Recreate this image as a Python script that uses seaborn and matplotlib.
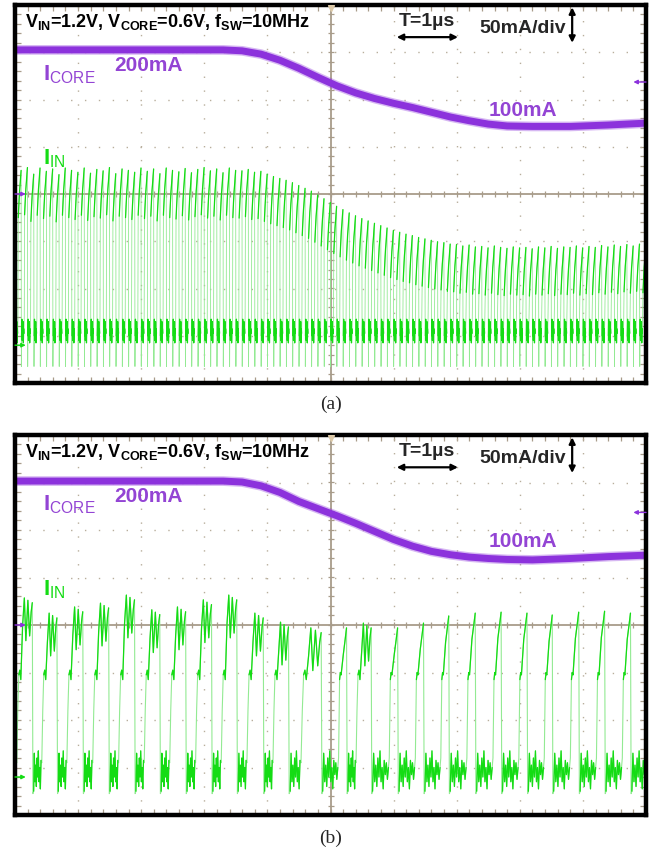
"""
Scope capture: I_CORE load step and I_IN switching current, two panels.
"""

import numpy as np
import matplotlib
matplotlib.use("Agg")
import matplotlib.pyplot as plt
import seaborn as sns

# scope settings (10 div wide, 8 div tall)
F_SW_MHZ = 10.0
T_DIV_US = 1.0
N_PULSES_A = 100

# I_CORE trace waypoints, in divisions
icore_x = [0.0, 3.3, 3.6, 3.9, 4.2, 4.5, 4.8, 5.1, 5.4, 5.7, 6.0, 6.3, 6.6, 6.9, 7.2, 7.5, 7.8, 8.2, 8.8, 9.4, 10.0]
icore_a = [3.05, 3.05, 3.03, 2.96, 2.83, 2.66, 2.47, 2.29, 2.14, 2.02, 1.92, 1.83, 1.73, 1.63, 1.55, 1.48,
           1.44, 1.43, 1.43, 1.46, 1.50]
icore_b = [3.03, 3.03, 3.01, 2.93, 2.79, 2.60, 2.45, 2.30, 2.14, 1.97, 1.80, 1.66, 1.55, 1.48, 1.43, 1.40,
           1.38, 1.37, 1.40, 1.44, 1.47]

# panel (a): peak of every I_IN pulse (div)
iin_a_peak = [
    0.50, 0.56, 0.42, 0.55, 0.48, 0.53, 0.41, 0.55, 0.50, 0.46,
    0.55, 0.44, 0.52, 0.49, 0.56, 0.43, 0.53, 0.50, 0.46, 0.55,
    0.48, 0.53, 0.43, 0.55, 0.50, 0.47, 0.54, 0.45, 0.52, 0.56,
    0.49, 0.53, 0.45, 0.55, 0.50, 0.49, 0.52, 0.46, 0.48, 0.42,
    0.37, 0.33, 0.29, 0.24, 0.18, 0.12, 0.06, -0.02, -0.10, -0.18,
    -0.26, -0.33, -0.40, -0.46, -0.52, -0.57, -0.62, -0.67, -0.72, -0.77,
    -0.81, -0.85, -0.88, -0.92, -0.95, -0.98, -1.01, -1.03, -1.06, -1.07,
    -1.10, -1.08, -1.12, -1.11, -1.14, -1.10, -1.13, -1.15, -1.12, -1.14,
    -1.13, -1.16, -1.12, -1.14, -1.11, -1.15, -1.12, -1.13, -1.10, -1.14,
    -1.11, -1.13, -1.09, -1.12, -1.08, -1.11, -1.07, -1.10, -1.06, -1.09,
]

# panel (b): falling-edge times (div), first and last lie off screen
iin_b_drop = [-0.12, 0.28, 0.67, 1.08, 1.49, 1.90, 2.30, 2.71, 3.12, 3.52, 3.94, 4.34, 4.86,
              5.26, 5.65, 6.07, 6.48, 6.88, 7.30, 7.71, 8.12, 8.52, 8.94, 9.35, 9.76, 10.17]
iin_b_peak = [0.57, 0.25, 0.38, 0.46, 0.63, 0.32, 0.38, 0.53, 0.63, 0.25, 0.06, -0.06,
              -0.06, 0.04, -0.06, 0.04, 0.19, 0.25, 0.27, 0.25, 0.21, 0.27, 0.29, 0.25, 0.25]
iin_b_shape = ["M"] * 12 + ["ramp", "M"] + ["ramp"] * 11

# bottom ripple seen during the off phase (div)
ripple_a = [-3.0, -2.65, -3.1, -2.75, -3.05, -2.7, -3.15, -2.85, -2.95]
ripple_b = [-3.5, -2.7, -3.3, -2.95, -3.4, -2.8, -3.2, -2.65,
            -3.3, -3.0, -3.45, -2.85, -3.15, -2.9, -3.25, -3.0]

# pulse shapes: undershoot, off-phase length, then (phase, level, relative-to-peak)
SHAPES = {
    "a": dict(under=-3.65, low_end=0.42, ripple=ripple_a, bright_from=1, rise=[
        (0.47, -2.6, False), (0.52, -1.0, True), (0.62, -0.7, True), (0.72, -0.45, True),
        (0.82, -0.28, True), (0.90, -0.12, True), (0.97, 0.0, True)]),
    "M": dict(under=-3.55, low_end=0.34, ripple=ripple_b[:12], bright_from=2, rise=[
        (0.37, -2.9, False), (0.41, -1.8, False), (0.45, -1.05, False), (0.49, -0.95, False),
        (0.53, -1.15, False), (0.60, -0.6, True), (0.67, 0.0, True), (0.73, -0.9, True),
        (0.81, -0.05, True), (0.88, -0.8, True), (0.94, -0.3, True), (0.985, -0.1, True)]),
    "ramp": dict(under=-3.55, low_end=0.64, ripple=ripple_b, bright_from=1, rise=[
        (0.67, -2.8, False), (0.71, -1.15, False), (0.74, -1.0, False), (0.77, -1.05, False),
        (0.86, -0.55, True), (0.93, -0.25, True), (0.985, 0.0, True)]),
}

PURPLE = "#8c32dc"
PURPLE_TXT = "#9344d4"
GREEN = "#14dc14"
GREEN_LIGHT = "#93ea93"
GRID = "#b8ae9c"
AXIS = "#a89c8a"


def build_trace(drops, peaks, shapes):
    xs, ys = [], []
    bx, by, bu = [], [], []
    seg = 0
    for i, (pk, sh) in enumerate(zip(peaks, shapes)):
        t0, per = drops[i], drops[i + 1] - drops[i]
        tpl = SHAPES[sh]
        rip = list(tpl["ripple"])
        low_ph = np.linspace(0.04, tpl["low_end"], len(rip))
        top_val = [v + pk if r else v for p, v, r in tpl["rise"]]
        lx = [t0 + p * per for p in low_ph]
        tx = [t0 + p * per for p, v, r in tpl["rise"]]
        xs += [t0 + 0.01 * per] + lx + tx
        ys += [tpl["under"]] + rip + top_val
        bx += lx
        by += rip
        bu += [seg] * len(lx)
        k = tpl["bright_from"]
        bx += tx[k:]
        by += top_val[k:]
        bu += [seg + 1] * len(tx[k:])
        seg += 2
    return xs, ys, bx, by, bu


def style_scope(ax):
    ax.set_xlim(0, 10)
    ax.set_ylim(-4, 4)
    for v in range(1, 10):
        if v != 5:
            ax.axvline(v, color=GRID, lw=1.0, ls=(0, (1, 9)), zorder=1)
    for h in range(-3, 4):
        if h != 0:
            ax.axhline(h, color=GRID, lw=1.0, ls=(0, (1, 9)), zorder=1)
    ax.axvline(5, color=AXIS, lw=1.3, zorder=1)
    ax.axhline(0, color=AXIS, lw=1.3, zorder=1)
    tx = np.arange(0, 10.01, 0.2)
    ty = np.arange(-4, 4.01, 0.2)
    ax.plot(tx, np.zeros_like(tx), ls="none", marker="|", ms=5, mew=0.9, color=AXIS, zorder=1)
    ax.plot(np.full_like(ty, 5.0), ty, ls="none", marker="_", ms=5, mew=0.9, color=AXIS, zorder=1)
    ax.set_xticks(range(0, 11))
    ax.set_yticks(range(-4, 5))
    ax.set_xticks(tx, minor=True)
    ax.set_yticks(ty, minor=True)
    ax.tick_params(which="both", direction="in", length=4.5, width=0.9, color=AXIS,
                   top=True, right=True, bottom=True, left=True,
                   labelbottom=False, labelleft=False)
    ax.grid(False)
    for s in ax.spines.values():
        s.set_linewidth(3.2)
        s.set_color("black")
        s.set_zorder(5)


def annotate_panel(ax):
    ax.text(0.16, 3.64, r"V$_{\mathbf{IN}}$=1.2V, V$_{\mathbf{CORE}}$=0.6V, f$_{\mathbf{SW}}$=10MHz",
            fontsize=13, fontweight="bold", color="black", va="center", ha="left", zorder=6)
    ax.text(6.53, 3.66, "T=1µs", fontsize=14, fontweight="bold", ha="center", va="center", zorder=6)
    ax.annotate("", xy=(7.02, 3.32), xytext=(6.05, 3.32),
                arrowprops=dict(arrowstyle="<|-|>", color="black", lw=1.6, mutation_scale=9,
                                shrinkA=0, shrinkB=0), zorder=6)
    ax.text(8.05, 3.51, "50mA/div", fontsize=14, fontweight="bold", ha="center", va="center", zorder=6)
    ax.annotate("", xy=(8.83, 3.95), xytext=(8.83, 3.2),
                arrowprops=dict(arrowstyle="<|-|>", color="black", lw=1.6, mutation_scale=9,
                                shrinkA=0, shrinkB=0), zorder=6)
    ax.text(0.44, 2.41, r"I$_{\mathrm{CORE}}$", fontsize=16, fontweight="bold", color=PURPLE_TXT,
            ha="left", va="baseline", zorder=6)
    ax.text(1.58, 2.71, "200mA", fontsize=15, fontweight="bold", color=PURPLE_TXT, ha="left", va="center")
    ax.text(8.05, 1.76, "100mA", fontsize=15, fontweight="bold", color=PURPLE_TXT, ha="center", va="center")
    ax.text(0.44, 0.62, r"I$_{\mathrm{IN}}$", fontsize=16, fontweight="bold", color=GREEN,
            ha="left", va="baseline", zorder=6)
    # channel markers
    ax.annotate("", xy=(0.17, 0.0), xytext=(0.0, 0.0),
                arrowprops=dict(arrowstyle="-|>", color=PURPLE, lw=1.0, mutation_scale=6,
                                shrinkA=0, shrinkB=0), zorder=6)
    ax.annotate("", xy=(0.17, -3.2), xytext=(0.0, -3.2),
                arrowprops=dict(arrowstyle="-|>", color=GREEN, lw=1.0, mutation_scale=6,
                                shrinkA=0, shrinkB=0), zorder=6)
    ax.annotate("", xy=(9.8, 2.37), xytext=(10.0, 2.37),
                arrowprops=dict(arrowstyle="-|>", color=PURPLE, lw=1.0, mutation_scale=6,
                                shrinkA=0, shrinkB=0), zorder=6)
    ax.plot([5.0], [3.93], marker="v", ms=4, color="#dcc9a8", zorder=6)


sns.set_theme(style="white")
plt.rcParams["font.family"] = ["Liberation Sans", "DejaVu Sans"]
plt.rcParams["mathtext.fontset"] = "custom"
plt.rcParams["mathtext.rm"] = "Liberation Sans"
plt.rcParams["mathtext.bf"] = "Liberation Sans:bold"
plt.rcParams["mathtext.it"] = "Liberation Sans:italic"

fig = plt.figure(figsize=(6.64, 8.51), dpi=100)
W, H = 664.0, 851.0
ax_a = fig.add_axes([15 / W, 1 - 383 / H, 631 / W, 378 / H])
ax_b = fig.add_axes([15 / W, 1 - 815 / H, 631 / W, 380 / H])

period = (1.0 / F_SW_MHZ) / T_DIV_US
drops_a = [k * period for k in range(N_PULSES_A + 1)]
traces = [
    (ax_a, icore_a, build_trace(drops_a, iin_a_peak, ["a"] * N_PULSES_A), 0.6, 0.9),
    (ax_b, icore_b, build_trace(iin_b_drop, iin_b_peak, iin_b_shape), 0.8, 0.9),
]

for ax, icore, (xs, ys, bx, by, bu), lw_light, lw_bright in traces:
    style_scope(ax)
    sns.lineplot(x=xs, y=ys, ax=ax, color=GREEN_LIGHT, lw=lw_light, estimator=None, sort=False, zorder=2)
    sns.lineplot(x=bx, y=by, units=bu, ax=ax, color=GREEN, lw=lw_bright, estimator=None, sort=False, zorder=3)
    # fuzzy halo of the noisy current-probe trace, then its core
    sns.lineplot(x=icore_x, y=icore, ax=ax, color=PURPLE, lw=7.0, alpha=0.35, estimator=None,
                 sort=False, zorder=4, solid_capstyle="butt")
    sns.lineplot(x=icore_x, y=icore, ax=ax, color=PURPLE, lw=5.0, estimator=None, sort=False,
                 zorder=4, solid_capstyle="butt")
    ax.set_xlim(0, 10)
    ax.set_ylim(-4, 4)
    ax.set_xlabel("")
    ax.set_ylabel("")
    annotate_panel(ax)

fig.text(331 / W, 1 - 404 / H, "(a)", ha="center", va="center", family="Liberation Serif", fontsize=14)
fig.text(331 / W, 1 - 838 / H, "(b)", ha="center", va="center", family="Liberation Serif", fontsize=14)

fig.savefig("out.png", dpi=100)
